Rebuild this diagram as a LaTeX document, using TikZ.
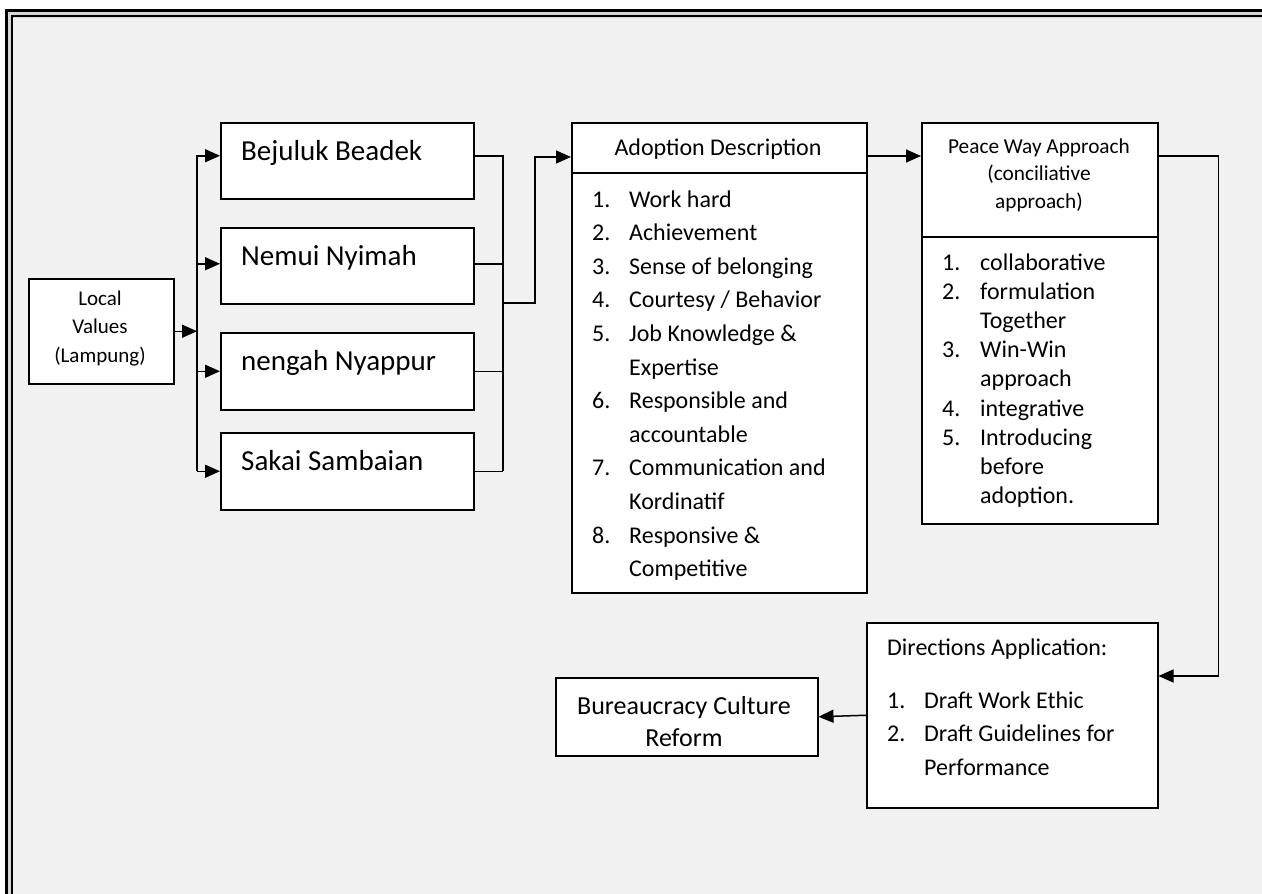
\documentclass[tikz,border=0pt]{standalone}
\usepackage{fontspec}
\setmainfont{Carlito}
\usetikzlibrary{arrows.meta,calc}
\definecolor{bgc}{HTML}{F1F1F1}
\definecolor{gapc}{HTML}{D6D6D6}
\newcommand\lnum[2][37pt]{\makebox[#1][l]{#2}}
\begin{document}
\begin{tikzpicture}[x=1pt,y=-1pt,
  box/.style={draw, line width=1.5pt, fill=white, inner sep=0pt, anchor=north west},
  conn/.style={line width=1.5pt},
  arr/.style={line width=1.5pt, -{Triangle[length=15pt,width=13pt]}},
  txt/.style={inner sep=0pt},
  valtxt/.style={txt, anchor=base west, font=\fontsize{29}{34}\selectfont}]
\useasboundingbox (0,0) rectangle (1262,894);
\fill[white] (0,0) rectangle (1262,894);
\fill[gapc] (5,9) rectangle (1262,894);
\fill[bgc] (13,17.5) rectangle (1262,894);
\draw[line width=3pt] (6.5,894) -- (6.5,10.5) -- (1262,10.5);
\draw[line width=2.5pt] (12,894) -- (12,16) -- (1262,16);

% boxes
\node[box, minimum width=145pt, minimum height=105pt] (lv) at (28,278) {};
\node[box, minimum width=253pt, minimum height=76pt] (b1) at (220,122) {};
\node[box, minimum width=253pt, minimum height=76pt] (b2) at (220,227) {};
\node[box, minimum width=253pt, minimum height=77pt] (b3) at (220,332) {};
\node[box, minimum width=253pt, minimum height=77pt] (b4) at (220,432) {};
\node[box, minimum width=295pt, minimum height=470pt] (ad) at (571,122) {};
\node[box, minimum width=236pt, minimum height=401pt] (pw) at (921,122) {};
\node[box, minimum width=291pt, minimum height=185pt] (da) at (866,622) {};
\node[box, minimum width=262pt, minimum height=78pt] (bc) at (555,677) {};
\draw[conn] (ad.west |- 0,173) -- (ad.east |- 0,173);
\draw[conn] (pw.west |- 0,237) -- (pw.east |- 0,237);

% texts
\node[txt, anchor=base, font=\fontsize{21}{28.5}\selectfont] (lvt) at (100,305)
  {\begin{tabular}[t]{@{}c@{}}Local\\Values\\(Lampung)\end{tabular}};
\node[valtxt] (b1t) at (241,160) {Bejuluk Beadek};
\node[valtxt] (b2t) at (241,265) {Nemui Nyimah};
\node[valtxt] (b3t) at (241,370) {nengah Nyappur};
\node[valtxt] (b4t) at (241,470) {Sakai Sambaian};
\node[txt, anchor=base, font=\fontsize{24}{30}\selectfont] (adh) at (718,155) {Adoption Description};
\node[txt, anchor=base west, font=\fontsize{24}{33.6}\selectfont] (adl) at (592,207)
  {\begin{tabular}[t]{@{}l@{}}
  \lnum{1.}Work hard\\
  \lnum{2.}Achievement\\
  \lnum{3.}Sense of belonging\\
  \lnum{4.}Courtesy / Behavior\\
  \lnum{5.}Job Knowledge \&\\
  \lnum{}Expertise\\
  \lnum{6.}Responsible and\\
  \lnum{}accountable\\
  \lnum{7.}Communication and\\
  \lnum{}Kordinatif\\
  \lnum{8.}Responsive \&\\
  \lnum{}Competitive
  \end{tabular}};
\node[txt, anchor=base, font=\fontsize{21.3}{27.5}\selectfont] (pwh) at (1039,153)
  {\begin{tabular}[t]{@{}c@{}}Peace Way Approach\\(conciliative\\approach)\end{tabular}};
\node[txt, anchor=base west, font=\fontsize{24}{29.2}\selectfont] (pwl) at (942,270)
  {\begin{tabular}[t]{@{}l@{}}
  \lnum[38pt]{1.}collaborative\\
  \lnum[38pt]{2.}formulation\\
  \lnum[38pt]{}Together\\
  \lnum[38pt]{3.}Win-Win\\
  \lnum[38pt]{}approach\\
  \lnum[38pt]{4.}integrative\\
  \lnum[38pt]{5.}Introducing\\
  \lnum[38pt]{}before\\
  \lnum[38pt]{}adoption.
  \end{tabular}};
\node[txt, anchor=base west, font=\fontsize{24}{30}\selectfont] (dah) at (887,655) {Directions Application:};
\node[txt, anchor=base west, font=\fontsize{24}{33.5}\selectfont] (dal) at (887,708)
  {\begin{tabular}[t]{@{}l@{}}
  \lnum{1.}Draft Work Ethic\\
  \lnum{2.}Draft Guidelines for\\
  \lnum{}Performance
  \end{tabular}};
\node[txt, anchor=base, font=\fontsize{26}{32}\selectfont] (bct) at (684,714)
  {\begin{tabular}[t]{@{}c@{}}Bureaucracy Culture\\Reform\end{tabular}};

% connectors: left fan-out
\coordinate (tA) at (197,155);
\coordinate (tB) at (197,471);
\draw[conn] (tA) -- (tB);
\draw[arr] (lv.east) -- (lv.east -| tA);
\coordinate (p1) at ([yshift=5pt]b1.west);
\coordinate (p2) at ([yshift=2pt]b2.west);
\coordinate (p3) at (b3.west);
\coordinate (p4) at (b4.west);
\draw[arr] (p1 -| tA) -- (p1);
\draw[arr] (p2 -| tA) -- (p2);
\draw[arr] (p3 -| tA) -- (p3);
\draw[arr] (p4 -| tA) -- (p4);

% right collector
\coordinate (cA) at (503,155);
\coordinate (cB) at (503,471);
\coordinate (q1) at ([yshift=5pt]b1.east);
\coordinate (q2) at ([yshift=2pt]b2.east);
\coordinate (q3) at (b3.east);
\coordinate (q4) at (b4.east);
\draw[conn] (q1) -- (q1 -| cA);
\draw[conn] (q2) -- (q2 -| cA);
\draw[conn] (q3) -- (q3 -| cA);
\draw[conn] (q4) -- (q4 -| cA);
\draw[conn] (cA) -- (cB);
\coordinate (jn) at (503,303);
\coordinate (adin) at ($(ad.north west)+(0,35)$);
\draw[arr] (jn) -- ++(32,0) |- (adin);

% adoption -> peace
\coordinate (adout) at ($(ad.north east)+(0,34)$);
\draw[arr] (adout) -- (adout -| pw.west);

% peace -> directions
\coordinate (pwout) at ($(pw.north east)+(0,34)$);
\coordinate (dain) at ($(da.north east)+(0,54)$);
\draw[arr] (pwout) -- ++(60,0) |- (dain);

% directions -> bureaucracy
\draw[arr] (da.west) -- (bc.east);
\end{tikzpicture}
\end{document}
